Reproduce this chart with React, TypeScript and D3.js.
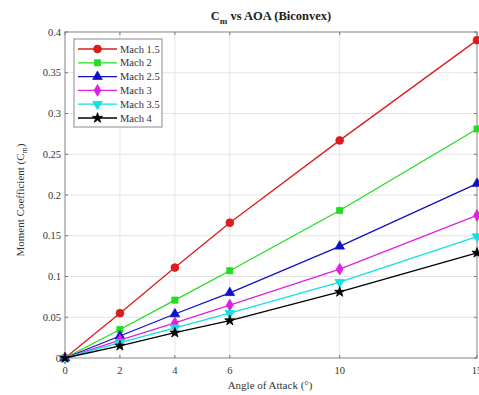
import React from "react";
import * as d3 from "d3";

const aoa = [0, 2, 4, 6, 10, 15];
const xTicks = [0, 2, 4, 6, 10, 15];
const yTicks = [0, 0.05, 0.1, 0.15, 0.2, 0.25, 0.3, 0.35, 0.4];
const seriesNames = ["Mach 1.5", "Mach 2", "Mach 2.5", "Mach 3", "Mach 3.5", "Mach 4"];
const mach15 = [0, 0.055, 0.111, 0.166, 0.267, 0.39];
const mach2 = [0, 0.035, 0.071, 0.107, 0.181, 0.281];
const mach25 = [0, 0.027, 0.054, 0.08, 0.137, 0.214];
const mach3 = [0, 0.022, 0.043, 0.065, 0.109, 0.175];
const mach35 = [0, 0.019, 0.037, 0.055, 0.093, 0.149];
const mach4 = [0, 0.015, 0.031, 0.046, 0.081, 0.129];
const seriesValues = [mach15, mach2, mach25, mach3, mach35, mach4];
const colors = ["#dd1c1c", "#22dd22", "#1010c8", "#e020e0", "#10e0e0", "#000000"];
const symbols = [d3.symbolCircle, d3.symbolSquare, d3.symbolTriangle, d3.symbolDiamond, "tdown", d3.symbolStar];

const W = 479, H = 395;
const M = { left: 65, right: 2, top: 32, bottom: 37 };

function markerPath(sym: any, size: number) {
  if (sym === "tdown") {
    return d3.symbol().type(d3.symbolTriangle).size(size)() as string;
  }
  return d3.symbol().type(sym).size(size)() as string;
}

export default function App() {
  const x = d3.scaleLinear().domain([0, 15]).range([M.left, W - M.right]);
  const y = d3.scaleLinear().domain([0, 0.4]).range([H - M.bottom, M.top]);
  const line = d3.line<number>().x((_, i) => x(aoa[i])).y((v) => y(v));
  const font = "'Liberation Serif', 'Times New Roman', serif";
  const x0 = x.range()[0], x1 = x.range()[1];
  const y0 = y.range()[0], y1 = y.range()[1];

  const renderMarker = (i: number, cx: number, cy: number, key: any) => {
    const sym = symbols[i];
    const size = sym === d3.symbolStar ? 32 : sym === d3.symbolCircle ? 48 : sym === d3.symbolSquare ? 38 : 40;
    const rot = sym === "tdown" ? 180 : 0;
    return (
      <path key={key} d={markerPath(sym, size)} transform={`translate(${cx},${cy}) rotate(${rot})`}
        fill={colors[i]} stroke={colors[i]} strokeWidth={0.8} />
    );
  };

  return (
    <svg width={W} height={H} style={{ position: "absolute", left: 0, top: 0, background: "#fff" }}>
      <rect x={0} y={0} width={W} height={H} fill="#fff" />
      {xTicks.filter((t) => t > 0 && t < 15).map((t) => (
        <line key={"gx" + t} x1={x(t)} x2={x(t)} y1={y0} y2={y1} stroke="#e4e4e4" strokeWidth={1} />
      ))}
      {yTicks.filter((t) => t > 0 && t < 0.4).map((t) => (
        <line key={"gy" + t} x1={x0} x2={x1} y1={y(t)} y2={y(t)} stroke="#e4e4e4" strokeWidth={1} />
      ))}
      <rect x={x0} y={y1} width={x1 - x0} height={y0 - y1} fill="none" stroke="#9a9a9a" strokeWidth={1.2} />
      {xTicks.map((t) => (
        <g key={"tx" + t}>
          <line x1={x(t)} x2={x(t)} y1={y0} y2={y0 - 3} stroke="#777" />
          <line x1={x(t)} x2={x(t)} y1={y1} y2={y1 + 3} stroke="#777" />
          <text x={x(t)} y={y0 + 16} textAnchor="middle" fontFamily={font} fontSize={10.5} fill="#333">{t}</text>
        </g>
      ))}
      {yTicks.map((t) => (
        <g key={"ty" + t}>
          <line x1={x0} x2={x0 + 3} y1={y(t)} y2={y(t)} stroke="#777" />
          <line x1={x1} x2={x1 - 3} y1={y(t)} y2={y(t)} stroke="#777" />
          <text x={x0 - 4} y={y(t) + 3.5} textAnchor="end" fontFamily={font} fontSize={10.5} fill="#333">{t}</text>
        </g>
      ))}
      {seriesValues.map((vals, i) => (
        <g key={"s" + i}>
          <path d={line(vals) as string} fill="none" stroke={colors[i]} strokeWidth={1.3} />
          {vals.map((v, j) => renderMarker(i, x(aoa[j]), y(v), j))}
        </g>
      ))}
      <text x={271} y={20} textAnchor="middle" fontFamily={font} fontSize={12.5} fontWeight="bold" fill="#222">
        C<tspan fontSize={9} dy={4}>m</tspan><tspan dy={-4}> vs AOA (Biconvex)</tspan>
      </text>
      <text x={270} y={389} textAnchor="middle" fontFamily={font} fontSize={11} fill="#333">Angle of Attack (°)</text>
      <text transform={`translate(24,${(y0 + y1) / 2 + 5}) rotate(-90)`} textAnchor="middle" fontFamily={font} fontSize={11} fill="#333">
        Moment Coefficient (C<tspan fontSize={8} dy={3}>m</tspan><tspan dy={-3}>)</tspan>
      </text>
      <rect x={74} y={39} width={88} height={88} fill="#fff" stroke="#8a8a8a" strokeWidth={1} />
      {seriesNames.map((n, i) => {
        const ly = 49 + i * 13.8;
        return (
          <g key={"l" + i}>
            <line x1={78} x2={117} y1={ly} y2={ly} stroke={colors[i]} strokeWidth={1.3} />
            {renderMarker(i, 97.5, ly, "lm")}
            <text x={120} y={ly + 3.5} fontFamily={font} fontSize={10.5} fill="#333">{n}</text>
          </g>
        );
      })}
    </svg>
  );
}
